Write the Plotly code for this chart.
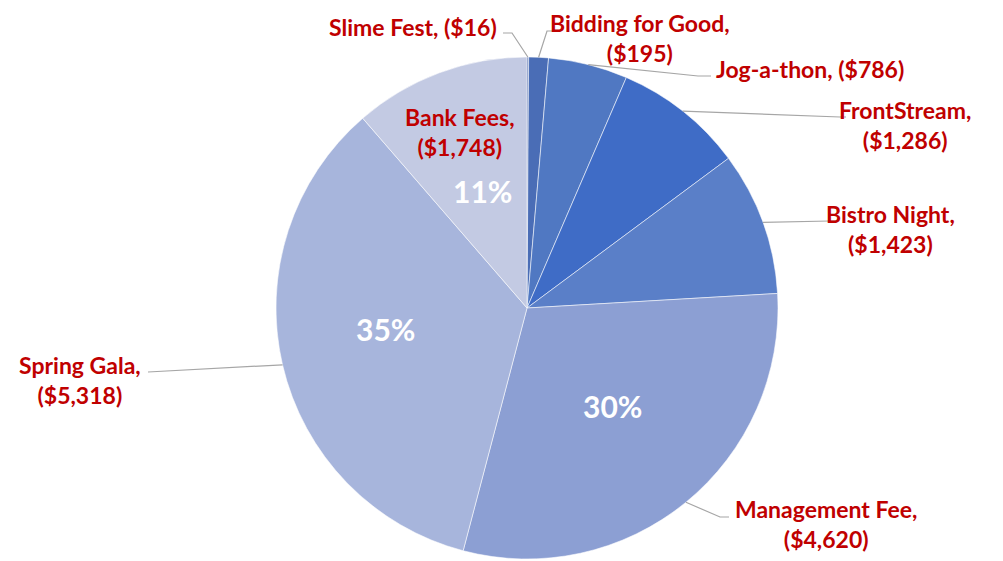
import math
import plotly.graph_objects as go

# ---- data ----
categories = ["Slime Fest", "Bidding for Good", "Jog-a-thon", "FrontStream",
              "Bistro Night", "Management Fee", "Spring Gala", "Bank Fees"]
amounts = [16, 195, 786, 1286, 1423, 4620, 5318, 1748]
amount_labels = ["($16)", "($195)", "($786)", "($1,286)", "($1,423)",
                 "($4,620)", "($5,318)", "($1,748)"]
colors = ["#4563A8", "#4A6DB6", "#5078C2", "#3F6CC6", "#5A7FC8",
          "#8C9FD3", "#A7B5DC", "#C3CAE3"]

W, H = 1003, 561
OFF = 8  # page body margin offset
CX, CY, R = 527, 308, 251

def px(x, y):
    return (x - OFF) / W, 1 - (y - OFF) / H

fig = go.Figure()
x0, y0 = px(CX - R, CY + R)
x1, y1 = px(CX + R, CY - R)
fig.add_trace(go.Pie(
    labels=categories, values=amounts, sort=False, direction="clockwise",
    rotation=0, textinfo="none", hoverinfo="label+value+percent",
    marker=dict(colors=colors, line=dict(color="rgba(255,255,255,0.55)", width=1)),
    domain=dict(x=[x0, x1], y=[y0, y1]),
    showlegend=False,
))

total = sum(amounts)

def mid_point(i, frac):
    cum = sum(amounts[:i]) + amounts[i] / 2
    th = 2 * math.pi * cum / total
    return CX + frac * R * math.sin(th), CY - frac * R * math.cos(th)

def label_text(i, two_lines):
    sep = "<br>" if two_lines else " "
    return f"{categories[i]},{sep}{amount_labels[i]}"

# label layout: index -> (two lines?, text center px, elbow px, anchor px)
label_layout = {
    0: (False, (413, 27), (512, 33), (503, 33)),
    1: (True, (640, 38), (547, 31), (553, 31)),
    2: (False, (810, 69), (698, 76), (711, 76)),
    3: (True, (905, 125), (840, 117), (846, 117)),
    4: (True, (890, 229), (830, 221), (836, 221)),
    5: (True, (826, 524), (720, 517), (729, 517)),
    6: (True, (80, 380), (148, 372), (148, 372)),
}

FONT = "Lato"
LABEL_COLOR = "#C00000"
LSIZE = 23
shapes = []
annotations = []
for i, (two, (tx, ty), (ex, ey), (ax_, ay_)) in label_layout.items():
    sx, sy = mid_point(i, 1.0)
    p0 = px(sx, sy); p1 = px(ex, ey); p2 = px(ax_, ay_)
    shapes.append(dict(type="path", xref="paper", yref="paper",
                       path=f"M {p0[0]} {p0[1]} L {p1[0]} {p1[1]} L {p2[0]} {p2[1]}",
                       line=dict(color="#A6A6A6", width=1.2)))
    x, y = px(tx, ty)
    annotations.append(dict(x=x, y=y, xref="paper", yref="paper", text=label_text(i, two),
                            showarrow=False, xanchor="center", yanchor="middle",
                            align="center", borderpad=0,
                            font=dict(family=FONT, size=LSIZE, color=LABEL_COLOR,
                                      weight="bold")))

# Bank Fees label inside slice
x, y = px(460, 132)
annotations.append(dict(x=x, y=y, xref="paper", yref="paper",
                        text=label_text(7, True), showarrow=False,
                        xanchor="center", yanchor="middle", align="center",
                        font=dict(family=FONT, size=LSIZE, color=LABEL_COLOR, weight="bold")))

# percentage labels (slice index -> text center px)
pct_layout = {7: (482, 191), 6: (385, 329), 5: (612, 406)}
for i, (mx, my) in pct_layout.items():
    pct = round(100 * amounts[i] / total)
    x, y = px(mx, my)
    annotations.append(dict(x=x, y=y, xref="paper", yref="paper",
                            text=f"{pct}%", showarrow=False,
                            xanchor="center", yanchor="middle",
                            font=dict(family=FONT, size=30, color="white", weight="bold")))

fig.update_layout(width=W, height=H, margin=dict(l=0, r=0, t=0, b=0),
                  paper_bgcolor="white", plot_bgcolor="white",
                  shapes=shapes, annotations=annotations)
fig.write_html("out.html")
